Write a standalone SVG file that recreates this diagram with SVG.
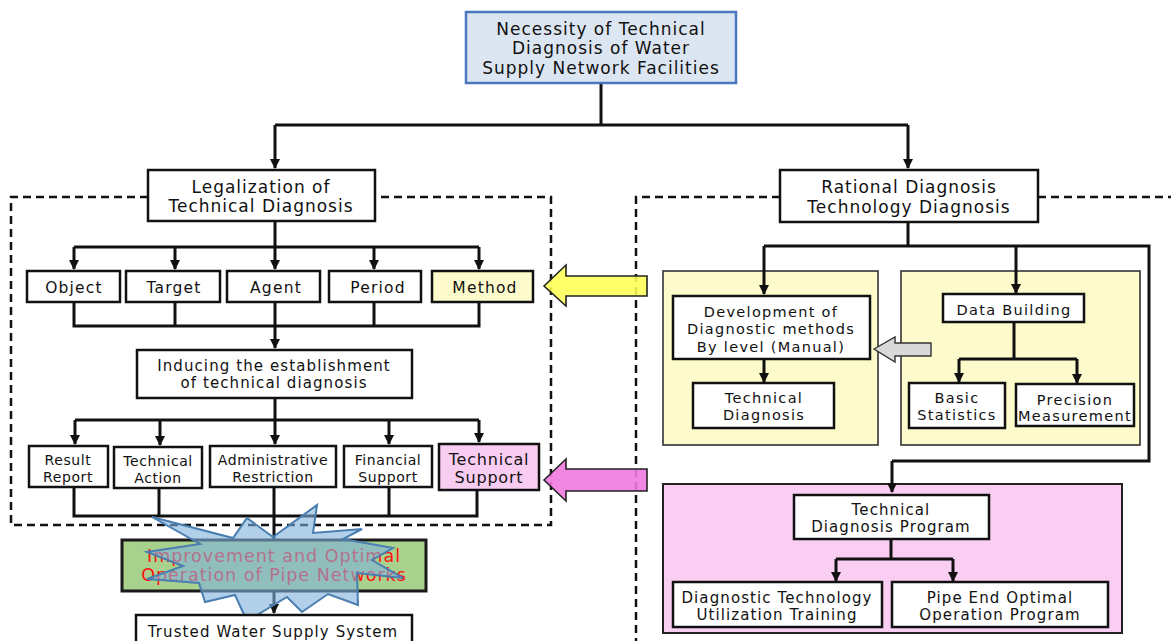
<svg xmlns="http://www.w3.org/2000/svg" width="1171" height="641" viewBox="0 0 1171 641">
  <style>
    .box { fill: #ffffff; stroke: #111111; stroke-width: 2.5; }
    .yel { fill: #fdfbcc; }
    .pnk { fill: #f9cdf1; }
    .panelY { fill: #fdfbcc; stroke: #333333; stroke-width: 1.6; }
    .panelP { fill: #f9cef2; stroke: #222222; stroke-width: 2; }
    .t { font-family: "DejaVu Sans", "Liberation Sans", sans-serif; fill: #111111; text-anchor: middle; }
    .s17 { font-size: 17px; letter-spacing: 1px; }
    .s155 { font-size: 15.5px; letter-spacing: 1.2px; }
    .s15 { font-size: 15px; letter-spacing: 1.1px; }
    .s14 { font-size: 14px; letter-spacing: 0.6px; }
    .s145 { font-size: 14.5px; letter-spacing: 1.3px; }
    .ln { fill: none; stroke: #111111; stroke-width: 3; }
    .dash { fill: none; stroke: #111111; stroke-width: 2.5; stroke-dasharray: 8 5; }
  </style>
  <defs>
    <marker id="ahd" markerUnits="userSpaceOnUse" markerWidth="10" markerHeight="10" refX="9" refY="5" orient="auto" viewBox="0 0 10 10">
      <path d="M0,0 L10,5 L0,10 Z" fill="#111111"/>
    </marker>
  </defs>

  <rect width="1171" height="641" fill="#ffffff"/>

  <!-- dashed group outlines -->
  <g id="groups">
    <path class="dash" d="M148,197 H11 V525 H551 V197 H375"/>
    <path class="dash" d="M780,197 H636 V641"/>
    <path class="dash" d="M1038,197 H1171"/>
  </g>

  <!-- right-side panels -->
  <g id="panels">
    <rect class="panelY" x="663" y="271" width="215" height="174"/>
    <rect class="panelY" x="901" y="271" width="239" height="174"/>
    <rect class="panelP" x="663" y="484" width="459" height="149"/>
  </g>

  <!-- connectors -->
  <g id="connectors">
    <path class="ln" d="M601,83 V125 M275,125 H908"/>
    <path class="ln" d="M275,125 V168" marker-end="url(#ahd)"/>
    <path class="ln" d="M908,125 V168" marker-end="url(#ahd)"/>

    <path class="ln" d="M275,221 V247 M74,247 H479"/>
    <path class="ln" d="M74,247 V269" marker-end="url(#ahd)"/>
    <path class="ln" d="M175,247 V269" marker-end="url(#ahd)"/>
    <path class="ln" d="M275,247 V269" marker-end="url(#ahd)"/>
    <path class="ln" d="M374,247 V269" marker-end="url(#ahd)"/>
    <path class="ln" d="M479,247 V269" marker-end="url(#ahd)"/>

    <path class="ln" d="M74,302 V326 H479 V302 M175,302 V326 M374,302 V326 M275,302 V326"/>
    <path class="ln" d="M275,326 V348" marker-end="url(#ahd)"/>

    <path class="ln" d="M275,398 V420 M75,420 H479"/>
    <path class="ln" d="M75,420 V444" marker-end="url(#ahd)"/>
    <path class="ln" d="M160,420 V445" marker-end="url(#ahd)"/>
    <path class="ln" d="M275,420 V444" marker-end="url(#ahd)"/>
    <path class="ln" d="M389,420 V444" marker-end="url(#ahd)"/>
    <path class="ln" d="M479,420 V442" marker-end="url(#ahd)"/>

    <path class="ln" d="M74,487 V516 H477 V490 M159,488 V516 M389,487 V516 M274,487 V516"/>
    <path class="ln" d="M274,516 V613" marker-end="url(#ahd)"/>

    <path class="ln" d="M908,222 V246 M764,246 H1149 V461 H892"/>
    <path class="ln" d="M764,246 V294" marker-end="url(#ahd)"/>
    <path class="ln" d="M1016,246 V293" marker-end="url(#ahd)"/>
    <path class="ln" d="M892,461 V492" marker-end="url(#ahd)"/>

    <path class="ln" d="M764,359 V382" marker-end="url(#ahd)"/>

    <path class="ln" d="M1014,322 V359 M959,359 H1077"/>
    <path class="ln" d="M959,359 V382" marker-end="url(#ahd)"/>
    <path class="ln" d="M1077,359 V383" marker-end="url(#ahd)"/>

    <path class="ln" d="M891,539 V559 M836,559 H953"/>
    <path class="ln" d="M836,559 V581" marker-end="url(#ahd)"/>
    <path class="ln" d="M953,559 V581" marker-end="url(#ahd)"/>
  </g>

  <!-- block arrows -->
  <g id="block-arrows">
    <path d="M544,286 L566,265 L566,276 L647,276 L647,296 L566,296 L566,306 Z" fill="#ffff55" fill-opacity="0.88" stroke="#222222" stroke-width="1.6"/>
    <path d="M544,480 L566,459 L566,469 L647,469 L647,491 L566,491 L566,501 Z" fill="#f07ae0" fill-opacity="0.9" stroke="#222222" stroke-width="1.6"/>
    <path d="M874,349 L895,337 L895,343 L931,343 L931,356 L895,356 L895,362 Z" fill="#d9d9d9" stroke="#333333" stroke-width="1.4"/>
  </g>

  <!-- top node -->
  <g id="n-necessity">
    <rect x="466" y="12" width="270" height="71" fill="#dce6f2" stroke="#4a78c0" stroke-width="2.5"/>
    <text class="t s17" x="601" y="35" letter-spacing="0.8">Necessity of Technical</text>
    <text class="t s17" x="601" y="54" letter-spacing="0.8">Diagnosis of Water</text>
    <text class="t s17" x="601" y="74" letter-spacing="0.8">Supply Network Facilities</text>
  </g>

  <!-- left branch -->
  <g id="n-legalization">
    <rect class="box" x="148" y="170" width="227" height="51"/>
    <text class="t s17" x="261" y="193">Legalization of</text>
    <text class="t s17" x="261" y="212">Technical Diagnosis</text>
  </g>
  <g id="n-object">
    <rect class="box" x="27" y="271" width="93" height="31"/>
    <text class="t s155" x="74" y="292.5">Object</text>
  </g>
  <g id="n-target">
    <rect class="box" x="126" y="271" width="94" height="31"/>
    <text class="t s155" x="174" y="292.5">Target</text>
  </g>
  <g id="n-agent">
    <rect class="box" x="227" y="271" width="93" height="31"/>
    <text class="t s155" x="276" y="292.5">Agent</text>
  </g>
  <g id="n-period">
    <rect class="box" x="329" y="271" width="92" height="31"/>
    <text class="t s155" x="378" y="292.5">Period</text>
  </g>
  <g id="n-method">
    <rect class="box yel" x="432" y="271" width="101" height="31"/>
    <text class="t s155" x="485" y="292.5">Method</text>
  </g>
  <g id="n-inducing">
    <rect class="box" x="137" y="350" width="275" height="48"/>
    <text class="t s15" x="274" y="370.5">Inducing the establishment</text>
    <text class="t s15" x="274" y="388">of technical diagnosis</text>
  </g>
  <g id="n-result">
    <rect class="box" x="29" y="446" width="79" height="41"/>
    <text class="t s14" x="68" y="465">Result</text>
    <text class="t s14" x="68" y="482">Report</text>
  </g>
  <g id="n-tech-action">
    <rect class="box" x="114" y="447" width="88" height="41"/>
    <text class="t s14" x="158" y="466" letter-spacing="1">Technical</text>
    <text class="t s14" x="158" y="483" letter-spacing="1">Action</text>
  </g>
  <g id="n-admin">
    <rect class="box" x="210" y="446" width="126" height="41"/>
    <text class="t s14" x="273" y="465">Administrative</text>
    <text class="t s14" x="273" y="482">Restriction</text>
  </g>
  <g id="n-financial">
    <rect class="box" x="344" y="446" width="88" height="41"/>
    <text class="t s14" x="388" y="465">Financial</text>
    <text class="t s14" x="388" y="482">Support</text>
  </g>
  <g id="n-tech-support">
    <rect class="box pnk" x="439" y="444" width="100" height="46"/>
    <text class="t" x="489" y="465" font-size="16" letter-spacing="0.8">Technical</text>
    <text class="t" x="489" y="483" font-size="16" letter-spacing="0.8">Support</text>
  </g>

  <!-- outcome -->
  <g id="n-improvement">
    <rect x="122" y="540" width="304" height="51" fill="#a9d18e" stroke="#1a1a1a" stroke-width="3"/>
    <text class="t" x="274" y="561.5" font-size="17.5" letter-spacing="1" style="fill:#ff1010">Improvement and Optimal</text>
    <text class="t" x="274" y="580.5" font-size="17.5" letter-spacing="1" style="fill:#ff1010">Operation of Pipe Networks</text>
  </g>
  <g id="burst">
    <polygon points="152,517 233,538 247,518 273,537 317,505 313,533 362,529 343,539 393,548 372,560 403,578 357,573 358,605 328,594 302,612 287,597 247,621 235,595 205,602 199,583 147,579 183,566 147,552 200,544"
      fill="#7fb0dc" fill-opacity="0.6" stroke="#4a7eb0" stroke-width="2" stroke-linejoin="miter"/>
  </g>
  <g id="n-trusted">
    <rect class="box" x="136" y="615" width="276" height="40"/>
    <text class="t s15" x="273" y="636.5" letter-spacing="0.7">Trusted Water Supply System</text>
  </g>

  <!-- right branch -->
  <g id="n-rational">
    <rect class="box" x="780" y="170" width="258" height="52"/>
    <text class="t s17" x="909" y="193">Rational Diagnosis</text>
    <text class="t s17" x="909" y="213">Technology Diagnosis</text>
  </g>
  <g id="n-development">
    <rect class="box" x="673" y="296" width="197" height="63"/>
    <text class="t s145" x="771" y="317" letter-spacing="1.5">Development of</text>
    <text class="t s145" x="771" y="334" letter-spacing="1.5">Diagnostic methods</text>
    <text class="t s145" x="771" y="351.5" letter-spacing="1.5">By level (Manual)</text>
  </g>
  <g id="n-tech-diagnosis">
    <rect class="box" x="693" y="383" width="141" height="45"/>
    <text class="t s145" x="764" y="403">Technical</text>
    <text class="t s145" x="764" y="420">Diagnosis</text>
  </g>
  <g id="n-data-building">
    <rect class="box" x="943" y="294" width="141" height="28"/>
    <text class="t s145" x="1014" y="315">Data Building</text>
  </g>
  <g id="n-basic-stats">
    <rect class="box" x="909" y="383" width="96" height="45"/>
    <text class="t s145" x="957" y="403" letter-spacing="0.9">Basic</text>
    <text class="t s145" x="957" y="420" letter-spacing="0.9">Statistics</text>
  </g>
  <g id="n-precision">
    <rect class="box" x="1016" y="384" width="118" height="42"/>
    <text class="t s145" x="1075" y="405" letter-spacing="0.7">Precision</text>
    <text class="t s145" x="1075" y="420.5" letter-spacing="0.7">Measurement</text>
  </g>
  <g id="n-program">
    <rect class="box" x="794" y="495" width="195" height="44"/>
    <text class="t s15" x="891" y="515" letter-spacing="1">Technical</text>
    <text class="t s15" x="891" y="532" letter-spacing="1">Diagnosis Program</text>
  </g>
  <g id="n-training">
    <rect class="box" x="673" y="582" width="209" height="45"/>
    <text class="t s15" x="777" y="603" letter-spacing="1.2">Diagnostic Technology</text>
    <text class="t s15" x="777" y="620" letter-spacing="1.2">Utilization Training</text>
  </g>
  <g id="n-pipe-end">
    <rect class="box" x="892" y="582" width="216" height="45"/>
    <text class="t s15" x="1000" y="603" letter-spacing="1.2">Pipe End Optimal</text>
    <text class="t s15" x="1000" y="620" letter-spacing="1.2">Operation Program</text>
  </g>
</svg>
